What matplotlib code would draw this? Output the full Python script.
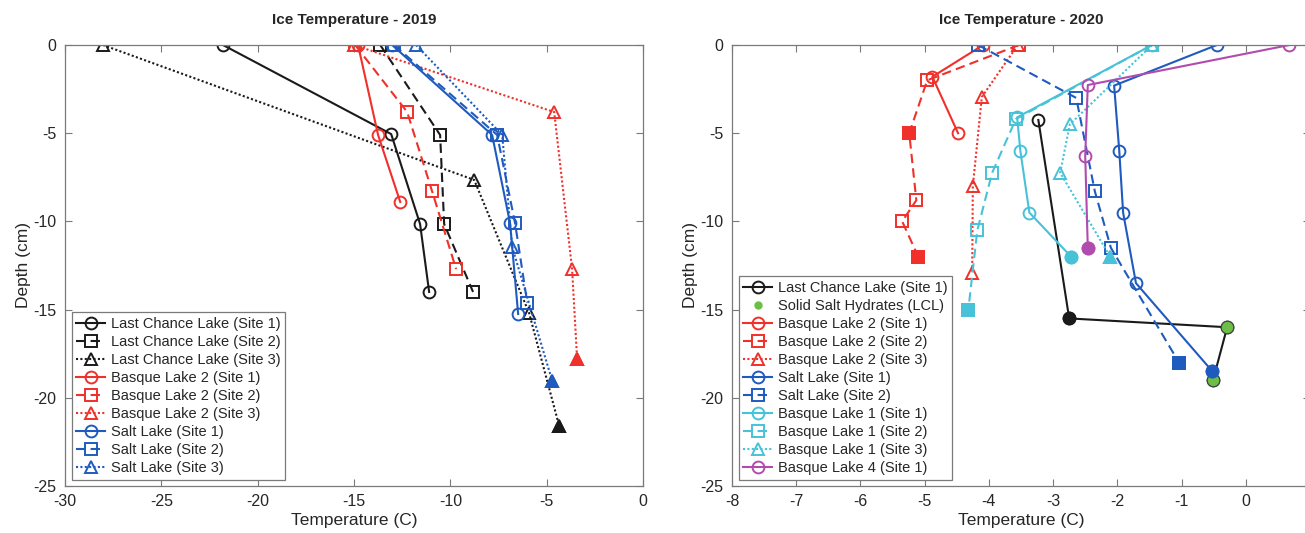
import matplotlib
matplotlib.use("Agg")
import matplotlib.pyplot as plt
from matplotlib.lines import Line2D

plt.rcParams['font.family'] = ['Liberation Sans', 'DejaVu Sans']
plt.rcParams['axes.unicode_minus'] = False

# ---------------- 2019 data ----------------
lcl1_19_t = [-21.8, -13.07, -11.57, -11.1]
lcl1_19_d = [0, -5.05, -10.15, -14.0]
lcl2_19_t = [-13.64, -10.53, -10.32, -8.82]
lcl2_19_d = [0, -5.1, -10.15, -14.0]
lcl3_19_t = [-28.03, -8.76, -5.91, -4.35]
lcl3_19_d = [0, -7.65, -15.2, -21.6]
bl21_19_t = [-14.79, -13.75, -12.6]
bl21_19_d = [0, -5.1, -8.9]
bl22_19_t = [-14.94, -12.24, -10.95, -9.7]
bl22_19_d = [0, -3.8, -8.28, -12.7]
bl23_19_t = [-15.0, -4.61, -3.68, -3.42]
bl23_19_d = [0, -3.8, -12.7, -17.8]
sl1_19_t = [-13.02, -7.83, -6.9, -6.48]
sl1_19_d = [0, -5.1, -10.1, -15.25]
sl2_19_t = [-12.92, -7.57, -6.64, -6.01]
sl2_19_d = [0, -5.1, -10.1, -14.6]
sl3_19_t = [-11.78, -7.31, -6.79, -4.71]
sl3_19_d = [0, -5.1, -11.45, -19.05]

# ---------------- 2020 data ----------------
lcl1_20_t = [-3.23, -2.75, -0.29, -0.51]
lcl1_20_d = [-4.25, -15.5, -16.0, -19.0]
hyd_20_t = [-0.29, -0.51]
hyd_20_d = [-16.0, -19.0]
bl21_20_t = [-4.09, -4.88, -4.48]
bl21_20_d = [0, -1.8, -5.0]
bl22_20_t = [-3.53, -4.96, -5.24, -5.13, -5.35, -5.10]
bl22_20_d = [0, -2.0, -5.0, -8.8, -10.0, -12.0]
bl23_20_t = [-3.55, -4.11, -4.25, -4.26]
bl23_20_d = [0, -2.95, -8.0, -12.9]
sl1_20_t = [-0.45, -2.05, -1.97, -1.91, -1.71, -0.52]
sl1_20_d = [0, -2.3, -6.0, -9.5, -13.5, -18.5]
sl2_20_t = [-4.17, -2.64, -2.35, -2.10, -1.04]
sl2_20_d = [0, -3.0, -8.3, -11.5, -18.0]
bl11_20_t = [-1.46, -3.56, -3.51, -3.37, -2.72]
bl11_20_d = [0, -4.1, -6.0, -9.5, -12.0]
bl12_20_t = [-1.46, -3.58, -3.95, -4.18, -4.32]
bl12_20_d = [0, -4.2, -7.25, -10.5, -15.0]
bl13_20_t = [-1.46, -2.74, -2.89, -2.11]
bl13_20_d = [0, -4.5, -7.25, -12.0]
bl41_20_t = [0.68, -2.46, -2.5, -2.46]
bl41_20_d = [0, -2.27, -6.3, -11.5]

xticks_2019 = [-30, -25, -20, -15, -10, -5, 0]
xticklabels_2019 = ['-30', '-25', '-20', '-15', '-10', '-5', '0']
xticks_2020 = [-8, -7, -6, -5, -4, -3, -2, -1, 0, 1]
xticklabels_2020 = ['-8', '-7', '-6', '-5', '-4', '-3', '-2', '-1', '0', '']
yticks = [-25, -20, -15, -10, -5, 0]

BLACK = '#1a1a1a'
RED = '#f0302a'
BLUE = '#1f5bbf'
CYAN = '#47c2d8'
PURPLE = '#b04cae'
GREEN = '#6cbf45'

W, H = 1305, 533
fig = plt.figure(figsize=(W / 100, H / 100), dpi=100)
axL = fig.add_axes([65 / W, 47 / H, 578 / W, 441 / H])
axR = fig.add_axes([732 / W, 47 / H, 578 / W, 441 / H])

LW = 1.5
MS = 8.5
MEW = 1.4


def series(ax, t, d, color, ls, marker, label, filled=()):
    ln, = ax.plot(t, d, color=color, ls=ls, lw=LW, marker=marker, ms=MS,
                  mfc='none', mec=color, mew=MEW, label=label)
    if filled:
        ax.plot([t[i] for i in filled], [d[i] for i in filled], ls='none',
                marker=marker, ms=MS, mfc=color, mec=color, mew=MEW)
    return ln


DASH = (0, (4.5, 2.5))
DOT = (0, (1, 1.1))

hL = []
hL.append(series(axL, lcl1_19_t, lcl1_19_d, BLACK, '-', 'o', 'Last Chance Lake (Site 1)'))
hL.append(series(axL, lcl2_19_t, lcl2_19_d, BLACK, DASH, 's', 'Last Chance Lake (Site 2)'))
hL.append(series(axL, lcl3_19_t, lcl3_19_d, BLACK, DOT, '^', 'Last Chance Lake (Site 3)', filled=(3,)))
hL.append(series(axL, bl21_19_t, bl21_19_d, RED, '-', 'o', 'Basque Lake 2 (Site 1)'))
hL.append(series(axL, bl22_19_t, bl22_19_d, RED, DASH, 's', 'Basque Lake 2 (Site 2)'))
hL.append(series(axL, bl23_19_t, bl23_19_d, RED, DOT, '^', 'Basque Lake 2 (Site 3)', filled=(3,)))
hL.append(series(axL, sl1_19_t, sl1_19_d, BLUE, '-', 'o', 'Salt Lake (Site 1)'))
hL.append(series(axL, sl2_19_t, sl2_19_d, BLUE, DASH, 's', 'Salt Lake (Site 2)'))
hL.append(series(axL, sl3_19_t, sl3_19_d, BLUE, DOT, '^', 'Salt Lake (Site 3)', filled=(3,)))

hR = []
hR.append(series(axR, lcl1_20_t, lcl1_20_d, BLACK, '-', 'o', 'Last Chance Lake (Site 1)', filled=(1,)))
axR.plot(hyd_20_t, hyd_20_d, ls='none', marker='o', ms=9, mfc=GREEN, mec='#444444', mew=0.8)
hR.append(Line2D([], [], ls='none', marker='o', ms=5, mfc=GREEN, mec=GREEN,
                 label='Solid Salt Hydrates (LCL)'))
hR.append(series(axR, bl21_20_t, bl21_20_d, RED, '-', 'o', 'Basque Lake 2 (Site 1)'))
hR.append(series(axR, bl22_20_t, bl22_20_d, RED, DASH, 's', 'Basque Lake 2 (Site 2)', filled=(2, 5)))
hR.append(series(axR, bl23_20_t, bl23_20_d, RED, DOT, '^', 'Basque Lake 2 (Site 3)'))
hR.append(series(axR, sl1_20_t, sl1_20_d, BLUE, '-', 'o', 'Salt Lake (Site 1)', filled=(5,)))
hR.append(series(axR, sl2_20_t, sl2_20_d, BLUE, DASH, 's', 'Salt Lake (Site 2)', filled=(4,)))
hR.append(series(axR, bl11_20_t, bl11_20_d, CYAN, '-', 'o', 'Basque Lake 1 (Site 1)', filled=(4,)))
hR.append(series(axR, bl12_20_t, bl12_20_d, CYAN, DASH, 's', 'Basque Lake 1 (Site 2)', filled=(4,)))
hR.append(series(axR, bl13_20_t, bl13_20_d, CYAN, DOT, '^', 'Basque Lake 1 (Site 3)', filled=(3,)))
hR.append(series(axR, bl41_20_t, bl41_20_d, PURPLE, '-', 'o', 'Basque Lake 4 (Site 1)', filled=(3,)))

AXC = '#7a7a7a'
TXC = '#262626'
for ax, xl, xt, xtl, title, handles in [
        (axL, (-30, 0), xticks_2019, xticklabels_2019, 'Ice Temperature - 2019', hL),
        (axR, (-8, 1), xticks_2020, xticklabels_2020, 'Ice Temperature - 2020', hR)]:
    ax.set_xlim(*xl)
    ax.set_ylim(-25, 0)
    ax.set_xticks(xt)
    ax.set_xticklabels(xtl)
    ax.set_yticks(yticks)
    ax.tick_params(direction='in', top=True, right=True, length=5, width=0.8,
                   color=AXC, labelcolor=TXC, labelsize=11.5, pad=6)
    for s in ax.spines.values():
        s.set_color(AXC)
        s.set_linewidth(0.9)
    ax.set_title(title, fontsize=11, fontweight='bold', color=TXC, pad=15)
    ax.set_xlabel('Temperature (C)', fontsize=12.5, color=TXC, labelpad=3)
    ax.set_ylabel('Depth (cm)', fontsize=12.5, color=TXC, labelpad=2)
    leg = ax.legend(handles=handles, loc='lower left', bbox_to_anchor=(0.012, 0.014),
                    borderaxespad=0, fontsize=10.5, frameon=True, fancybox=False,
                    framealpha=1, edgecolor=AXC, handlelength=2.0, handletextpad=0.4,
                    labelspacing=0.28, borderpad=0.3, labelcolor=TXC)
    leg.get_frame().set_linewidth(0.9)

fig.savefig('out.png', dpi=100)
